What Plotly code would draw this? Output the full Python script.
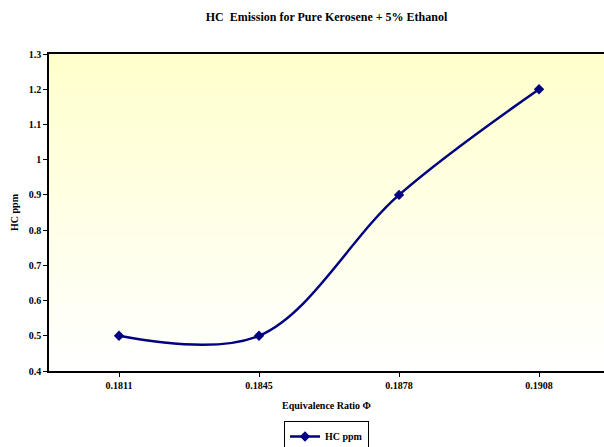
import plotly.graph_objects as go

# Data
phi_labels = ["0.1811", "0.1845", "0.1878", "0.1908"]
hc_ppm = [0.5, 0.5, 0.9, 1.2]

y_ticks = [0.4, 0.5, 0.6, 0.7, 0.8, 0.9, 1.0, 1.1, 1.2, 1.3]
y_ticktext = ["0.4", "0.5", "0.6", "0.7", "0.8", "0.9", "1", "1.1", "1.2", "1.3"]

serif = "Liberation Serif, Times New Roman, serif"
navy = "#000080"

fig = go.Figure()
fig.add_trace(go.Scatter(
    x=list(range(len(phi_labels))),
    y=hc_ppm,
    mode="lines+markers",
    name="HC ppm",
    line=dict(color=navy, width=2.5, shape="spline", smoothing=1.0),
    marker=dict(symbol="diamond", size=8, color=navy),
))

# Plot-area background: pale yellow fading to white toward the bottom
n_steps = 90
top_rgb = (255, 255, 204)
for i in range(n_steps):
    t = i / (n_steps - 1)  # 0 at bottom, 1 at top
    r = round(255 + (top_rgb[0] - 255) * t)
    g = round(255 + (top_rgb[1] - 255) * t)
    b = round(255 + (top_rgb[2] - 255) * t)
    fig.add_shape(
        type="rect", xref="paper", yref="paper",
        x0=0, x1=1, y0=i / n_steps, y1=(i + 1) / n_steps + 0.002,
        fillcolor=f"rgb({r},{g},{b})", line=dict(width=0), layer="below",
    )

fig.update_layout(
    width=604, height=447,
    margin=dict(l=49, r=0, t=54, b=76),
    paper_bgcolor="white",
    plot_bgcolor="white",
    font=dict(family=serif, size=10, color="black", weight="bold"),
    title=dict(
        text="HC  Emission for Pure Kerosene + 5% Ethanol",
        x=0.5, xref="paper", xanchor="center",
        y=1 - 17 / 447, yanchor="middle",
        font=dict(family=serif, size=12, color="black", weight="bold"),
    ),
    showlegend=True,
    legend=dict(
        orientation="h",
        x=0.5, xanchor="center",
        yref="container", y=1 - 421 / 447, yanchor="top",
        bordercolor="black", borderwidth=1,
        bgcolor="white",
        font=dict(family=serif, size=10, color="black", weight="bold"),
        itemwidth=30,
        tracegroupgap=0,
    ),
    xaxis=dict(
        range=[-0.5, 3.464],
        tickmode="array",
        tickvals=list(range(len(phi_labels))),
        ticktext=phi_labels,
        tickson="boundaries",
        ticks="outside", ticklen=4, tickcolor="black",
        showline=True, linecolor="black", linewidth=1.5,
        mirror=True,
        showgrid=False, zeroline=False,
        title=dict(text="Equivalence Ratio Φ", standoff=12,
                   font=dict(family=serif, size=10, weight="bold")),
        tickfont=dict(family=serif, size=10, weight="bold"),
    ),
    yaxis=dict(
        range=[0.4, 1.3],
        tickmode="array",
        tickvals=y_ticks,
        ticktext=y_ticktext,
        ticks="outside", ticklen=4, tickcolor="black",
        showline=True, linecolor="black", linewidth=1.5,
        showgrid=False, zeroline=False,
        title=dict(text="HC ppm", standoff=8,
                   font=dict(family=serif, size=10, weight="bold")),
        tickfont=dict(family=serif, size=10, weight="bold"),
    ),
)

fig.write_html("out.html")
